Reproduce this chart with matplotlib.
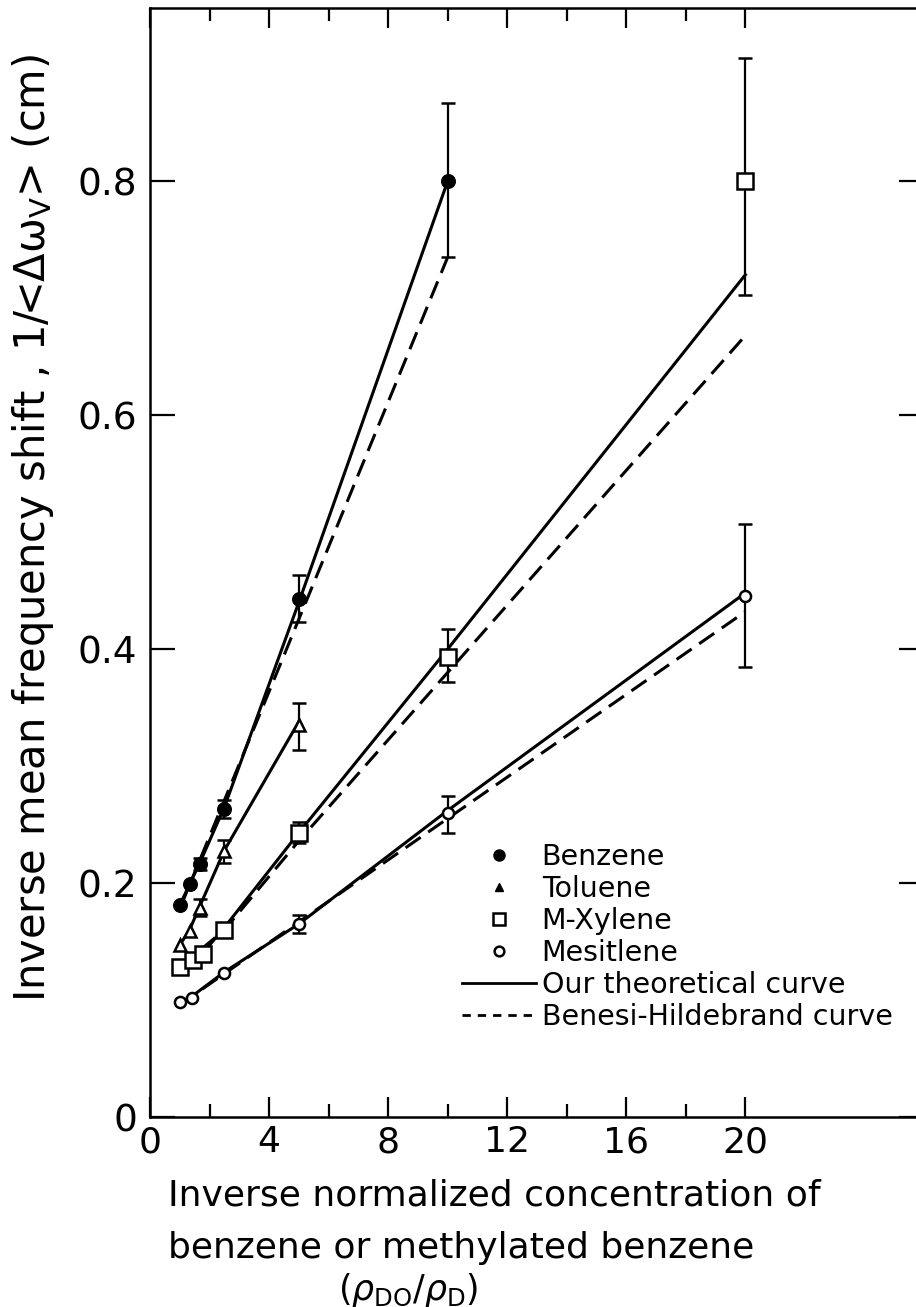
import matplotlib
matplotlib.use("Agg")
import matplotlib.pyplot as plt
from matplotlib.lines import Line2D

plt.rcParams['font.family'] = ['DejaVu Sans']
plt.rcParams['mathtext.fontset'] = 'dejavusans'

# Benzene (filled circles)
benz_x = [1.0, 1.33, 1.67, 2.5, 5.0, 10.0]
benz_y = [0.181, 0.199, 0.216, 0.263, 0.443, 0.800]
benz_err_lo = [0.0, 0.0, 0.005, 0.007, 0.020, 0.065]
benz_err_hi = [0.0, 0.0, 0.005, 0.008, 0.020, 0.067]
benz_th_y = [0.181, 0.199, 0.217, 0.265, 0.440, 0.800]
benz_bh_x = [1.0, 10.0]
benz_bh_y = [0.178, 0.735]

# Toluene (open triangles)
tol_x = [1.0, 1.33, 1.67, 2.5, 5.0]
tol_y = [0.147, 0.159, 0.179, 0.227, 0.335]
tol_err_lo = [0.0, 0.0, 0.007, 0.010, 0.021]
tol_err_hi = [0.0, 0.0, 0.007, 0.010, 0.019]
tol_th_y = [0.147, 0.160, 0.180, 0.228, 0.338]

# M-Xylene (open squares)
xyl_x = [1.0, 1.43, 1.77, 2.5, 5.0, 10.0, 20.0]
xyl_y = [0.128, 0.134, 0.139, 0.160, 0.243, 0.393, 0.800]
xyl_err_lo = [0.0, 0.0, 0.0, 0.0, 0.009, 0.021, 0.097]
xyl_err_hi = [0.0, 0.0, 0.0, 0.0, 0.009, 0.024, 0.105]
xyl_th_y = [0.128, 0.134, 0.140, 0.162, 0.243, 0.400, 0.720]
xyl_bh_x = [1.0, 2.5, 5.0, 20.0]
xyl_bh_y = [0.128, 0.160, 0.236, 0.668]

# Mesitylene (open circles)
mes_x = [1.0, 1.4, 2.5, 5.0, 10.0, 20.0]
mes_y = [0.098, 0.102, 0.123, 0.165, 0.260, 0.445]
mes_err_lo = [0.0, 0.0, 0.0, 0.008, 0.017, 0.060]
mes_err_hi = [0.0, 0.0, 0.0, 0.008, 0.014, 0.062]
mes_th_y = [0.098, 0.103, 0.124, 0.165, 0.262, 0.448]
mes_bh_x = [1.0, 20.0]
mes_bh_y = [0.096, 0.432]

x_ticks = [0, 4, 8, 12, 16, 20]
x_minor = [2, 6, 10, 14, 18]
y_ticks = [0, 0.2, 0.4, 0.6, 0.8]
y_labels = ["0", "0.2", "0.4", "0.6", "0.8"]

fig = plt.figure(figsize=(9.16, 13.07), dpi=100)
ax = fig.add_axes([150 / 916, 190 / 1307, 774 / 916, 1109 / 1307])

lw = 2.2
dash = (6, 3)

# theoretical (solid) and Benesi-Hildebrand (dashed) curves
ax.plot(benz_x, benz_th_y, color="black", lw=lw, zorder=2)
ax.plot(tol_x, tol_th_y, color="black", lw=lw, zorder=2)
ax.plot(xyl_x, xyl_th_y, color="black", lw=lw, zorder=2)
ax.plot(mes_x, mes_th_y, color="black", lw=lw, zorder=2)
ax.plot(benz_bh_x, benz_bh_y, color="black", lw=lw, dashes=dash, zorder=2)
ax.plot(xyl_bh_x, xyl_bh_y, color="black", lw=lw, dashes=dash, zorder=2)
ax.plot(mes_bh_x, mes_bh_y, color="black", lw=lw, dashes=dash, zorder=2)


def draw_series(x, y, lo, hi, marker, ms, filled):
    # barras de error solo donde hay error
    ex = [a for a, l in zip(x, lo) if l > 0]
    ey = [b for b, l in zip(y, lo) if l > 0]
    elo = [l for l in lo if l > 0]
    ehi = [h for h, l in zip(hi, lo) if l > 0]
    ax.errorbar(ex, ey, yerr=[elo, ehi], fmt="none", ecolor="black",
                elinewidth=1.6, capsize=5, capthick=1.8, zorder=3)
    ax.plot(x, y, ls="none", marker=marker, ms=ms, mec="black", mew=1.8,
            mfc="black" if filled else "white", zorder=4)


draw_series(benz_x, benz_y, benz_err_lo, benz_err_hi, "o", 9, True)
draw_series(tol_x, tol_y, tol_err_lo, tol_err_hi, "^", 9, False)
draw_series(xyl_x, xyl_y, xyl_err_lo, xyl_err_hi, "s", 11, False)
draw_series(mes_x, mes_y, mes_err_lo, mes_err_hi, "o", 8, False)

ax.set_xlim(0, 26)
ax.set_ylim(0, 0.948)
ax.set_xticks(x_ticks)
ax.set_xticklabels([str(t) for t in x_ticks])
ax.set_xticks(x_minor, minor=True)
ax.set_yticks(y_ticks)
ax.set_yticklabels(y_labels)

ax.tick_params(which="both", direction="in", top=True, right=True, width=1.6)
ax.tick_params(axis="x", which="major", length=14.5, labelsize=26, pad=6)
ax.tick_params(axis="x", which="minor", length=9.5)
ax.tick_params(axis="y", which="major", length=18, labelsize=27, pad=9)
for s in ax.spines.values():
    s.set_linewidth(1.8)

# etiqueta del eje y
fig.text(33 / 916, 1 - 528 / 1307,
         "Inverse mean frequency shift , 1/<$\\mathrm{\\Delta\\omega_V}$> (cm)",
         fontsize=30, rotation=90, ha="center", va="center")

# etiqueta del eje x en tres lineas
fig.text(168 / 916, 1 - 1195 / 1307, "Inverse normalized concentration of",
         fontsize=26, ha="left", va="center")
fig.text(168 / 916, 1 - 1248 / 1307, "benzene or methylated benzene",
         fontsize=26, ha="left", va="center")
fig.text(408 / 916, 1 - 1290 / 1307, "($\\rho_{\\rm DO}/\\rho_{\\rm D}$)",
         fontsize=25, ha="center", va="center")

handles = [
    Line2D([], [], ls="none", marker="o", ms=8, color="black"),
    Line2D([], [], ls="none", marker="^", ms=6, color="black"),
    Line2D([], [], ls="none", marker="s", ms=9, mfc="white", mec="black", mew=1.8),
    Line2D([], [], ls="none", marker="o", ms=7, mfc="white", mec="black", mew=1.8),
    Line2D([], [], color="black", lw=2),
    Line2D([], [], color="black", lw=2, dashes=(3, 2.5)),
]
labels = ["Benzene", "Toluene", "M-Xylene", "Mesitlene",
          "Our theoretical curve", "Benesi-Hildebrand curve"]
ax.legend(handles, labels, loc="upper left", bbox_to_anchor=(462 / 916, 1 - 843 / 1307),
          bbox_transform=fig.transFigure, frameon=False, fontsize=20.5,
          handlelength=2.6, handletextpad=0.2, labelspacing=0.14,
          borderpad=0, borderaxespad=0)

fig.savefig("out.png", dpi=100)
